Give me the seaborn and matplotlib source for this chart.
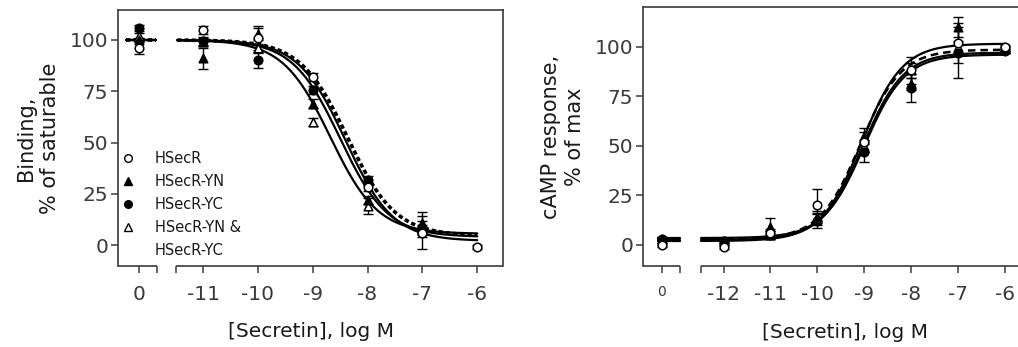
import numpy as np
import pandas as pd
import matplotlib
matplotlib.use("Agg")
import matplotlib.pyplot as plt
import seaborn as sns
from matplotlib.lines import Line2D
from matplotlib.transforms import blended_transform_factory

sns.set_style("ticks")
plt.rcParams['font.family'] = ['DejaVu Sans']
plt.rcParams['axes.edgecolor'] = '#3a3a3a'
plt.rcParams['xtick.color'] = '#3a3a3a'
plt.rcParams['ytick.color'] = '#3a3a3a'
plt.rcParams['text.color'] = '#1a1a1a'
plt.rcParams['axes.labelcolor'] = '#1a1a1a'

# ---------------- data ----------------
series = ["HSecR", "HSecR-YN", "HSecR-YC", "HSecR-YN & HSecR-YC"]

# Binding panel (% of saturable)
bind_logc = [-11, -10, -9, -8, -7, -6]
bind_tick_labels = ["0", "-11", "-10", "-9", "-8", "-7", "-6"]
bind_zero = [96, 100, 106, 102]
bind_zero_err = [3, 1, 1.5, 1.5]
bind_hsecr = [105, 101, 82, 28.5, 6, -0.8]
bind_hsecr_err = [2, 6, 2, 2, 8, 1]
bind_yn = [91, 103, 69, 22, 11, np.nan]
bind_yn_err = [5, 3, 2, 2, 5, np.nan]
bind_yc = [99.5, 90, 75.5, 31.5, 8.5, np.nan]
bind_yc_err = [2, 3.5, 2, 2, 3, np.nan]
bind_ynyc = [99, 96, 60, 19, 7, np.nan]
bind_ynyc_err = [2, 2, 2, 4, 3, np.nan]
# four-parameter logistic fits (top, bottom, logIC50, Hill slope)
bind_fit_top = [100, 100, 100, 100]
bind_fit_bottom = [2, 4, 4.5, 5.5]
bind_fit_logx50 = [-8.40, -8.50, -8.36, -8.68]
bind_fit_hill = [-1, -1, -1, -1]

# cAMP panel (% of max)
camp_logc = [-12, -11, -10, -9, -8, -7, -6]
camp_tick_labels = ["0", "-12", "-11", "-10", "-9", "-8", "-7", "-6"]
camp_zero = [0, 3, 3, 2]
camp_zero_err = [1, 1, 1, 1]
camp_hsecr = [-1, 6, 20, 52, 88, 102, 100]
camp_hsecr_err = [1, 2, 8, 5, 7, 10, 1]
camp_yn = [2, 9, 14, 55, 81, 110, 99]
camp_yn_err = [1, 4.5, 3, 4, 3, 5, 1]
camp_yc = [2, 5, 12, 47, 79, 97, 98]
camp_yc_err = [1, 2, 3.5, 5, 7, 13, 1]
camp_ynyc = [2, 5, 13, 50, 88, 100, 99]
camp_ynyc_err = [1, 2, 3, 3, 4, 3, 1]
camp_fit_top = [101.5, 96, 98.5, 97]
camp_fit_bottom = [2, 3.5, 3, 2.5]
camp_fit_logx50 = [-9.05, -9.0, -9.08, -9.03]
camp_fit_hill = [1, 1, 1, 1]

# ---------------- style ----------------
marker_styles = [
    dict(marker="o", facecolor="white"),
    dict(marker="^", facecolor="black"),
    dict(marker="o", facecolor="black"),
    dict(marker="^", facecolor="white"),
]
line_styles_bind = ["-", "-", (0, (1.2, 0.8)), "-"]
line_widths_bind = [1.6, 1.6, 2.6, 1.6]
line_styles_camp = ["-", "-", (0, (3, 2)), "-"]
line_widths_camp = [1.6, 1.6, 1.8, 1.6]


def logistic(logx, top, bottom, logx50, hill):
    return bottom + (top - bottom) / (1 + 10 ** ((logx50 - logx) * hill))


def draw_panel(ax, logc, vals, errs, zero_vals, zero_errs, fit, zero_pos,
               xlim, seg_break, curve_start, zero_stub, ylim, tick_labels,
               lstyles, lwidths, zero_plateau):
    tops, bottoms, x50s, hills = fit
    # fitted curves
    xs = np.linspace(curve_start, logc[-1], 300)
    for i in range(4):
        ys = logistic(xs, tops[i], bottoms[i], x50s[i], hills[i])
        df = pd.DataFrame({"x": xs, "y": ys})
        sns.lineplot(data=df, x="x", y="y", ax=ax, color="black",
                     linestyle=lstyles[i], lw=lwidths[i], zorder=2,
                     estimator=None, sort=False)
        plateau = tops[i] if zero_plateau == "top" else bottoms[i]
        dfz = pd.DataFrame({"x": list(zero_stub), "y": [plateau, plateau]})
        sns.lineplot(data=dfz, x="x", y="y", ax=ax, color="black",
                     linestyle=lstyles[i], lw=lwidths[i], zorder=2,
                     estimator=None, sort=False)
    # data points with error bars (plotted back to front)
    for i in [3, 2, 1, 0]:
        xv = [zero_pos] + list(logc)
        yv = [zero_vals[i]] + list(vals[i])
        ev = [zero_errs[i]] + list(errs[i])
        ax.errorbar(xv, yv, yerr=ev, fmt="none", ecolor="black",
                    elinewidth=1.0, capsize=3.5, capthick=1.0, zorder=3)
        df = pd.DataFrame({"x": xv, "y": yv}).dropna()
        sns.scatterplot(data=df, x="x", y="y", ax=ax,
                        marker=marker_styles[i]["marker"],
                        color=marker_styles[i]["facecolor"],
                        edgecolor="black", linewidth=1.1, s=38, zorder=4)
    ax.set_xlim(*xlim)
    ax.set_ylim(*ylim)
    ax.set_xticks([zero_pos] + list(logc))
    ax.set_xticklabels(tick_labels)
    ax.set_yticks([0, 25, 50, 75, 100])
    ax.tick_params(axis="both", direction="out", length=5, width=1.1,
                   labelsize=14.5)
    ax.tick_params(axis="y", pad=2)
    ax.tick_params(axis="x", pad=9)
    for side in ["top", "left", "right"]:
        ax.spines[side].set_linewidth(1.2)
        ax.spines[side].set_visible(True)
    ax.spines["bottom"].set_visible(False)
    tr = blended_transform_factory(ax.transData, ax.transAxes)
    ax.plot([xlim[0], seg_break[0]], [0, 0], transform=tr, color="#3a3a3a",
            lw=1.2, clip_on=False, solid_capstyle="butt")
    ax.plot([seg_break[1], xlim[1]], [0, 0], transform=tr, color="#3a3a3a",
            lw=1.2, clip_on=False, solid_capstyle="butt")
    ax.plot(list(seg_break), [0, 0], transform=tr, ls="none", marker=3,
            ms=5, mew=1.1, color="#3a3a3a", clip_on=False)
    ax.set_xlabel("")
    ax.set_ylabel("")


fig = plt.figure(figsize=(10.18, 3.47), dpi=100)
ax1 = fig.add_axes([118 / 1018, 81 / 347, 385 / 1018, 256 / 347])
ax2 = fig.add_axes([643 / 1018, 81 / 347, 385 / 1018, 259 / 347])

draw_panel(ax1, bind_logc,
           [bind_hsecr, bind_yn, bind_yc, bind_ynyc],
           [bind_hsecr_err, bind_yn_err, bind_yc_err, bind_ynyc_err],
           bind_zero, bind_zero_err,
           (bind_fit_top, bind_fit_bottom, bind_fit_logx50, bind_fit_hill),
           zero_pos=-12.17, xlim=(-12.55, -5.53), seg_break=(-11.84, -11.5),
           curve_start=-11.47, zero_stub=(-12.4, -11.86), ylim=(-10.2, 114.6),
           tick_labels=bind_tick_labels, lstyles=line_styles_bind,
           lwidths=line_widths_bind, zero_plateau="top")

draw_panel(ax2, camp_logc,
           [camp_hsecr, camp_yn, camp_yc, camp_ynyc],
           [camp_hsecr_err, camp_yn_err, camp_yc_err, camp_ynyc_err],
           camp_zero, camp_zero_err,
           (camp_fit_top, camp_fit_bottom, camp_fit_logx50, camp_fit_hill),
           zero_pos=-13.32, xlim=(-13.72, -5.5), seg_break=(-12.92, -12.49),
           curve_start=-12.48, zero_stub=(-13.4, -12.94), ylim=(-10.6, 120),
           tick_labels=camp_tick_labels, lstyles=line_styles_camp,
           lwidths=line_widths_camp, zero_plateau="bottom")
ax2.get_xticklabels()[0].set_fontsize(10)

ax1.set_ylabel("Binding,\n% of saturable", fontsize=15, labelpad=7,
               linespacing=1.25)
ax2.set_ylabel("cAMP response,\n% of max", fontsize=15, labelpad=7,
               linespacing=1.25)
ax1.set_xlabel("[Secretin], log M", fontsize=14.5, labelpad=10)
ax2.set_xlabel("[Secretin], log M", fontsize=14.5, labelpad=10)
ax2.xaxis.set_label_coords((845 - 643) / 385, -0.22)
ax1.xaxis.set_label_coords(0.5, -0.22)

# legend
handles = []
labels = ["HSecR", "HSecR-YN", "HSecR-YC", "HSecR-YN &", "HSecR-YC"]
for i in range(4):
    handles.append(Line2D([], [], ls="none", marker=marker_styles[i]["marker"],
                          markerfacecolor=marker_styles[i]["facecolor"],
                          markeredgecolor="black", markersize=5.5, mew=1.0))
handles.append(Line2D([], [], ls="none", marker=None))
leg = ax1.legend(handles, labels, loc="upper left", bbox_to_anchor=(0.008, 0.45),
                 frameon=False, fontsize=10.5, handlelength=1.0,
                 handletextpad=1.3, labelspacing=0.55, borderaxespad=0,
                 borderpad=0)

fig.savefig("out.png", dpi=100)
